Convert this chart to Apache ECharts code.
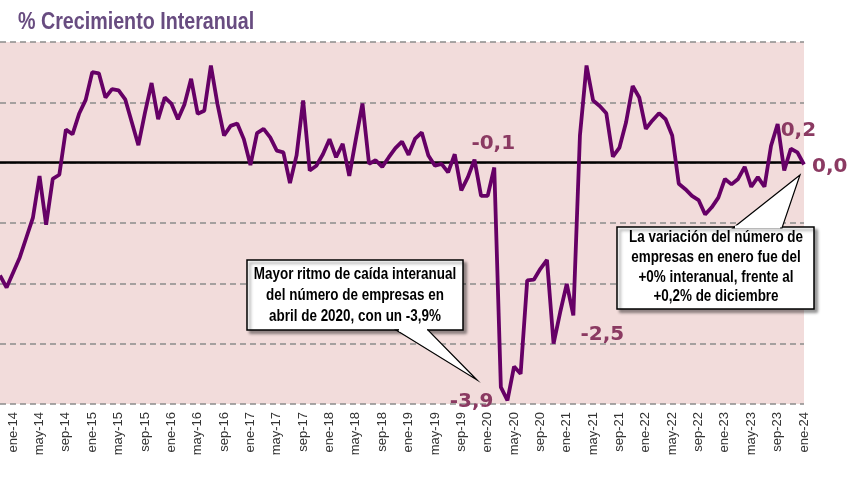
<!DOCTYPE html>
<html><head><meta charset="utf-8">
<script src="https://cdn.jsdelivr.net/npm/echarts@6/dist/echarts.min.js"></script>
<style>html,body{margin:0;padding:0;background:#fff}#c{width:850px;height:477px}</style>
</head><body><div id="c"></div>
<script>
// ---- DATA ----
const monthNames = ['ene','feb','mar','abr','may','jun','jul','ago','sep','oct','nov','dic'];
const categories = [];
for (let y = 2013, m = 10; !(y === 2024 && m === 1); ) {
  categories.push(monthNames[m] + '-' + String(y).slice(2));
  m++; if (m === 12) { m = 0; y++; }
}
// % crecimiento interanual, nov-13 .. ene-24
const values = [
  -1.87, -2.07,
  -1.82, -1.57, -1.24, -0.91, -0.22, -1.03, -0.27, -0.20, 0.55, 0.47, 0.81, 1.04,
  1.50, 1.48, 1.08, 1.22, 1.20, 1.05, 0.67, 0.29, 0.83, 1.32, 0.72, 1.08,
  0.98, 0.72, 0.97, 1.39, 0.81, 0.86, 1.61, 0.97, 0.45, 0.61, 0.65, 0.39,
  -0.04, 0.49, 0.56, 0.42, 0.20, 0.17, -0.34, 0.12, 1.03, -0.13, -0.05, 0.14,
  0.39, 0.09, 0.31, -0.22, 0.39, 0.98, -0.02, 0.04, -0.07, 0.09, 0.24, 0.35,
  0.13, 0.40, 0.50, 0.12, -0.05, -0.02, -0.16, 0.14, -0.46, -0.24, 0.05, -0.55,
  -0.55, -0.08, -3.72, -3.94, -3.38, -3.50, -1.95, -1.94, -1.76, -1.61, -3.00, -2.48,
  -2.01, -2.53, 0.45, 1.61, 1.03, 0.94, 0.82, 0.10, 0.25, 0.67, 1.27, 1.08,
  0.56, 0.70, 0.82, 0.72, 0.45, -0.35, -0.44, -0.55, -0.62, -0.86, -0.74, -0.58,
  -0.27, -0.36, -0.27, -0.07, -0.40, -0.24, -0.40, 0.28, 0.64, -0.13, 0.23, 0.17,
  -0.03
];
const labeledMonths = ['feb-20', 'abr-20', 'feb-21', 'dic-23', 'ene-24'];
const tickMonths = ['ene', 'may', 'sep'];
const titleText = '% Crecimiento Interanual';
const note1 = ['Mayor ritmo de caída interanual', 'del número de empresas en', 'abril de 2020, con un -3,9%'];
const note2 = ['La variación del número de', 'empresas en enero fue del', '+0% interanual, frente al', '+0,2% de diciembre'];

// ---- STYLE ----
const labelStyles = {
  'feb-20': { position: 'top', distance: 14, offset: [-1, 0] },
  'abr-20': { position: 'left', distance: 14, offset: [0, 1] },
  'feb-21': { position: 'bottom', distance: 9, offset: [29, 0] },
  'dic-23': { position: 'top', distance: 12, offset: [1, 0] },
  'ene-24': { position: 'right', distance: 8, offset: [0, 2] }
};
const fmt = v => { let r = Math.round(v * 10) / 10; if (r === 0) r = 0; return r.toFixed(1).replace('.', ','); };
const sans = "'Liberation Sans', Arial, sans-serif";

const seriesData = values.map((v, i) => {
  const c = categories[i];
  if (labeledMonths.indexOf(c) >= 0) {
    const s = labelStyles[c];
    return {
      value: v,
      label: {
        show: true, position: s.position, distance: s.distance, offset: s.offset,
        formatter: p => fmt(p.value),
        color: '#8B3A62', fontSize: 20, fontWeight: 'bold', fontFamily: "'DejaVu Sans', sans-serif"
      }
    };
  }
  return v;
});

const shadow = { shadowBlur: 3, shadowOffsetX: 3, shadowOffsetY: 3, shadowColor: 'rgba(0,0,0,0.4)' };
const textStyleNote = { fill: '#000', fontSize: 16, fontWeight: 'bold', fontFamily: sans, align: 'center', verticalAlign: 'top' };

const chart = echarts.init(document.getElementById('c'), null, { renderer: 'canvas' });
chart.setOption({
  animation: false,
  backgroundColor: '#fff',
  grid: { left: 0, right: 46, top: 42, bottom: 73, show: true, backgroundColor: '#F2DCDB', borderWidth: 0 },
  xAxis: {
    type: 'category', data: categories, boundaryGap: false,
    axisLine: { show: false }, axisTick: { show: false },
    axisLabel: {
      rotate: 90, margin: 8, fontSize: 13, color: '#333', fontFamily: sans,
      interval: (idx, val) => tickMonths.indexOf(val.split('-')[0]) >= 0
    },
    splitLine: { show: false }
  },
  yAxis: {
    type: 'value', min: -4, max: 2, interval: 1,
    axisLine: { show: false }, axisTick: { show: false }, axisLabel: { show: false },
    splitLine: { show: true, lineStyle: { color: '#8C8C8C', width: 1.5, type: [6, 4] } }
  },
  series: [{
    type: 'line', data: seriesData, symbol: 'circle', symbolSize: 0, showSymbol: true,
    lineStyle: { color: '#660066', width: 3.8 }, itemStyle: { color: '#660066' },
    z: 3,
    markLine: {
      silent: true, symbol: ['none', 'none'], label: { show: false },
      lineStyle: { color: '#000', width: 2.5, type: 'solid' },
      data: [{ yAxis: 0 }], z: 2
    }
  }],
  graphic: [
    { type: 'text', z: 103, x: 18, y: 22, scaleX: 0.82,
      style: { text: titleText, fill: '#684C80', fontSize: 24, fontWeight: 'bold', fontFamily: sans, align: 'left', verticalAlign: 'middle' } },

    { type: 'rect', z: 100, shape: { x: 247, y: 260, width: 216, height: 70 }, style: Object.assign({ fill: '#fff', stroke: '#000', lineWidth: 1.5 }, shadow) },
    { type: 'polygon', z: 101, shape: { points: [[396, 330], [477, 380], [428, 330]] }, style: { fill: '#fff', stroke: '#000', lineWidth: 1.2 } },
    { type: 'rect', z: 102, shape: { x: 399, y: 328.5, width: 28, height: 3 }, style: { fill: '#fff' } },
    { type: 'text', z: 103, x: 355, y: 264, scaleX: 0.84, style: Object.assign({ text: note1.join('\n'), lineHeight: 21 }, textStyleNote) },

    { type: 'rect', z: 100, shape: { x: 617, y: 227, width: 197, height: 82 }, style: Object.assign({ fill: '#fff', stroke: '#000', lineWidth: 1.5 }, shadow) },
    { type: 'polygon', z: 101, shape: { points: [[733, 228], [800, 175], [782, 228]] }, style: { fill: '#fff', stroke: '#000', lineWidth: 1.2 } },
    { type: 'rect', z: 102, shape: { x: 735, y: 225.5, width: 45, height: 3 }, style: { fill: '#fff' } },
    { type: 'text', z: 103, x: 716, y: 228, scaleX: 0.84, style: Object.assign({ text: note2.join('\n'), lineHeight: 19.7 }, textStyleNote) }
  ]
});
</script>
</body></html>
